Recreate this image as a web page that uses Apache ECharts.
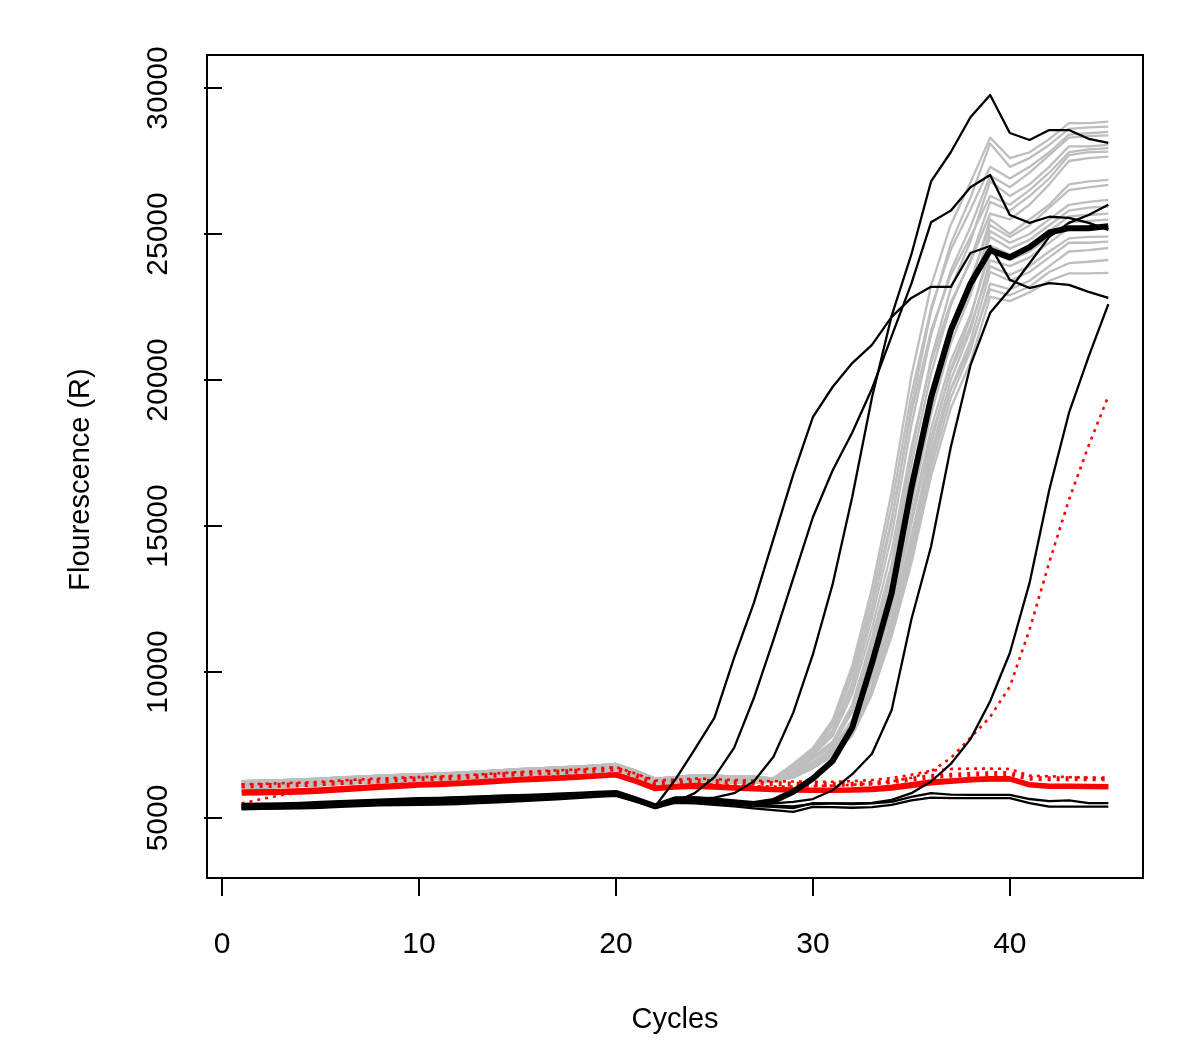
<!DOCTYPE html>
<html><head><meta charset="utf-8">
<script src="https://cdn.jsdelivr.net/npm/echarts@6/dist/echarts.min.js"></script>
<style>html,body{margin:0;padding:0;background:#fff}#c{width:1200px;height:1063px}</style>
</head><body><div id="c"></div>
<script>
// ---- data ----
const cycles = [1,2,3,4,5,6,7,8,9,10,11,12,13,14,15,16,17,18,19,20,21,22,23,24,25,26,27,28,29,30,31,32,33,34,35,36,37,38,39,40,41,42,43,44,45];
const xTicks = [0,10,20,30,40];
const yTicks = [5000,10000,15000,20000,25000,30000];

// gray curves: baseline (cycles 1-27) + amplification (cycles 28-45)
const grayBaseA = [6200,6220,6240,6260,6290,6330,6360,6390,6420,6440,6460,6490,6530,6570,6610,6640,6670,6700,6740,6780,6560,6300,6350,6420,6400,6370,6370];
const grayBaseB = [6110,6130,6150,6180,6210,6250,6280,6310,6340,6360,6380,6410,6450,6490,6530,6560,6590,6620,6660,6700,6480,6220,6270,6340,6320,6290,6290];
const grayBaseC = [6030,6050,6070,6100,6130,6170,6200,6230,6260,6280,6300,6330,6370,6410,6450,6480,6510,6540,6580,6620,6400,6140,6190,6260,6240,6210,6210];
const grayBaseD = [6260,6280,6300,6320,6350,6390,6420,6450,6480,6500,6520,6550,6590,6630,6670,6700,6730,6760,6800,6850,6620,6350,6400,6470,6450,6420,6420];

const grayRise01 = [6360,6850,7400,8350,10220,12870,16170,20140,23230,25320,26760,28300,27600,27800,28250,28800,28800,28850];
const grayRise02 = [6320,6710,7280,8000,9620,12150,15120,19100,22350,24670,26240,28100,27300,27600,28050,28600,28650,28680];
const grayRise03 = [6360,6820,7350,8250,10040,12570,15720,19510,22460,24460,25830,27300,26900,27300,27800,28400,28450,28500];
const grayRise04 = [6310,6690,7230,7910,9450,11850,14680,18450,21540,23740,25240,27000,26600,27100,27700,28300,28350,28380];
const grayRise05 = [6300,6560,7090,7610,8880,11180,13690,17470,20720,23120,24750,26800,26300,26700,27300,28000,28000,28050];
const grayRise06 = [6350,6790,7290,8160,9860,12270,15270,18880,21690,23590,24900,26300,26000,26500,27100,27800,27900,27940];
const grayRise07 = [6300,6550,7060,7560,8790,11010,13440,17090,20220,22550,24120,26100,25800,26300,26900,27700,27800,27820];
const grayRise08 = [6310,6660,7160,7810,9250,11500,14150,17690,20590,22650,24050,25700,25500,26000,26700,27500,27600,27650];
const grayRise09 = [6300,6480,6910,7390,8370,10290,12600,15880,19090,21570,23250,25500,25000,25500,26000,26700,26800,26850];
const grayRise10 = [6300,6540,7030,7510,8690,10820,13150,16650,19660,21890,23400,25300,24900,25300,25900,26500,26600,26680];
const grayRise11 = [6250,6480,6890,7360,8320,10210,12470,15680,18820,21260,22900,25100,24700,25000,25500,26000,26100,26170];
const grayRise12 = [6350,6530,7020,7480,8640,10730,13000,16430,19380,21560,23040,24900,24500,24800,25300,25800,25900,25940];
const grayRise13 = [6300,6400,6750,7200,7990,9550,11760,14510,17810,20380,22120,24600,24300,24600,25100,25600,25650,25700];
const grayRise14 = [6300,6470,6870,7320,8240,10050,12220,15300,18320,20660,22230,24350,24100,24400,24900,25400,25450,25490];
const grayRise15 = [6250,6390,6730,7180,7950,9460,11610,14280,17500,20000,21690,24100,23900,24200,24700,25200,25250,25260];
const grayRise16 = [6300,6460,6850,7290,8190,9960,12080,15080,18020,20300,21840,23900,23600,23900,24400,24850,24900,24910];
const grayRise17 = [6300,6390,6720,7160,7910,9390,11490,14100,17240,19690,21340,23700,23400,23700,24200,24700,24700,24740];
const grayRise18 = [6250,6390,6710,7140,7870,9320,11370,13920,16990,19380,21000,23300,23100,23400,23900,24400,24450,24520];
const grayRise19 = [6350,6450,6820,7240,8100,9790,11810,14680,17490,19660,21130,23100,22900,23200,23700,24000,24050,24110];
const grayRise20 = [6300,6380,6700,7110,7830,9240,11230,13720,16710,19030,20610,22850,22700,23000,23400,23650,23650,23670];

// black thin curves
const black1 = [5450,5460,5470,5490,5520,5550,5570,5600,5620,5650,5660,5680,5700,5720,5740,5760,5780,5800,5830,5860,5640,5400,6300,7350,8430,10480,12360,14560,16750,18730,19760,20580,21200,22160,22810,23190,23190,24350,24590,23430,23150,23320,23260,23020,22810];
const black2 = [5330,5340,5350,5370,5400,5430,5460,5480,5490,5500,5510,5530,5560,5590,5620,5650,5690,5730,5770,5810,5600,5380,5550,5850,6400,7400,9100,11100,13200,15300,16900,18200,19700,21500,23300,25400,25800,26600,27020,25650,25380,25590,25550,25380,25140];
const black3 = [5480,5490,5500,5520,5550,5580,5600,5630,5650,5680,5690,5710,5730,5750,5770,5790,5810,5830,5850,5880,5660,5420,5620,5650,5700,5850,6250,7100,8600,10600,13000,16000,19400,22200,24300,26800,27800,29000,29760,28460,28220,28560,28560,28260,28120];
const black4 = [5400,5410,5420,5440,5470,5500,5530,5550,5570,5590,5600,5620,5650,5680,5710,5730,5760,5790,5820,5850,5620,5390,5600,5620,5580,5530,5500,5500,5550,5650,5950,6500,7200,8700,11800,14300,17700,20500,22300,23100,24000,24900,25380,25650,26000];
const black5 = [5350,5360,5370,5390,5420,5450,5480,5500,5510,5530,5540,5560,5590,5620,5650,5680,5710,5740,5780,5820,5610,5380,5560,5590,5540,5490,5450,5420,5400,5480,5500,5500,5520,5620,5850,6250,6850,7700,9000,10650,13050,16230,18870,20800,22600];
const black6 = [5420,5430,5440,5460,5480,5500,5520,5540,5560,5570,5580,5600,5620,5650,5680,5710,5740,5770,5800,5830,5610,5390,5580,5560,5510,5460,5410,5380,5340,5510,5500,5480,5500,5550,5720,5850,5800,5790,5790,5790,5650,5580,5600,5510,5510];
const black7 = [5300,5310,5320,5330,5350,5380,5410,5430,5440,5450,5460,5480,5510,5540,5570,5600,5640,5680,5720,5760,5560,5350,5520,5500,5450,5400,5330,5270,5210,5380,5370,5350,5370,5450,5600,5700,5680,5680,5680,5680,5510,5390,5390,5390,5390];
// black thick curve
const blackThick = [5380,5390,5400,5420,5460,5490,5510,5540,5570,5600,5610,5640,5670,5700,5720,5740,5770,5800,5830,5860,5640,5400,5640,5650,5600,5540,5480,5580,5900,6350,6950,8100,10300,12700,16300,19400,21700,23300,24450,24200,24550,25050,25200,25200,25270];

// red curves
const redThick = [5850,5860,5870,5880,5920,5960,6000,6040,6080,6120,6140,6170,6210,6250,6290,6320,6350,6390,6430,6470,6250,6000,6050,6080,6050,6020,5990,5970,5950,5940,5940,5950,5970,6020,6100,6200,6250,6300,6330,6330,6130,6080,6080,6070,6060];
const redThickDotted = [6100,6110,6120,6140,6170,6210,6240,6270,6310,6340,6360,6390,6430,6470,6510,6540,6570,6600,6640,6680,6460,6200,6230,6270,6250,6220,6200,6180,6160,6150,6150,6160,6190,6250,6330,6420,6460,6500,6520,6520,6360,6340,6340,6340,6340];
const redThin1 = [5950,5960,5970,5990,6020,6060,6100,6140,6170,6200,6220,6250,6290,6330,6370,6400,6430,6460,6500,6540,6320,6080,6130,6170,6140,6100,6070,6040,6020,6010,6010,6020,6050,6110,6200,6290,6330,6380,6400,6400,6200,6150,6150,6140,6130];
const redThin2 = [5900,5910,5930,5950,5980,6020,6060,6090,6120,6150,6170,6200,6240,6280,6320,6350,6380,6420,6460,6500,6280,6030,6080,6110,6090,6060,6030,6000,5980,5970,5980,6000,6030,6080,6160,6240,6220,6260,6290,6300,6120,6060,6050,6040,6030];
const redDottedRising = [5500,5650,5780,5880,5960,6030,6080,6120,6160,6190,6210,6240,6280,6320,6360,6390,6420,6450,6490,6530,6310,6080,6120,6160,6140,6110,6090,6080,6080,6090,6110,6140,6180,6250,6380,6600,7050,7750,8460,9500,11450,13750,15900,17750,19450];
const redDottedUpper = [6150,6170,6190,6210,6240,6280,6320,6350,6380,6400,6420,6450,6490,6530,6570,6600,6630,6660,6700,6740,6520,6280,6310,6350,6330,6300,6280,6260,6250,6240,6240,6260,6300,6370,6480,6620,6680,6690,6690,6680,6450,6430,6400,6380,6340];

// ---- build ----
const GRAY = '#BEBEBE', RED = '#FF0000', BLACK = '#000000';
const grayCurves = [
  grayBaseD.concat(grayRise01), grayBaseA.concat(grayRise02), grayBaseB.concat(grayRise03), grayBaseC.concat(grayRise04),
  grayBaseA.concat(grayRise05), grayBaseD.concat(grayRise06), grayBaseB.concat(grayRise07), grayBaseC.concat(grayRise08),
  grayBaseA.concat(grayRise09), grayBaseB.concat(grayRise10), grayBaseC.concat(grayRise11), grayBaseD.concat(grayRise12),
  grayBaseA.concat(grayRise13), grayBaseB.concat(grayRise14), grayBaseC.concat(grayRise15), grayBaseA.concat(grayRise16),
  grayBaseB.concat(grayRise17), grayBaseC.concat(grayRise18), grayBaseD.concat(grayRise19), grayBaseB.concat(grayRise20)
];

function mk(vals, color, width, type, z) {
  return {
    type: 'line', data: vals.map((v, i) => [cycles[i], v]),
    showSymbol: false, symbol: 'none', silent: true, animation: false, z: z,
    lineStyle: { color: color, width: width, type: type || 'solid', cap: 'butt', join: 'round' },
    emphasis: { disabled: true }
  };
}

const series = [];
grayCurves.forEach(g => series.push(mk(g, GRAY, 2.3, 'solid', 2)));
series.push(mk(redThin1, RED, 2, 'solid', 3));
series.push(mk(redThin2, RED, 2, 'solid', 3));
series.push(mk(redThick, RED, 5, 'solid', 3));
series.push(mk(redThickDotted, RED, 5, [3, 6], 3));
series.push(mk(redDottedUpper, RED, 2.6, [3, 5], 3));
series.push(mk(redDottedRising, RED, 2.6, [3, 5], 3));
[black1, black2, black3, black4, black5, black6, black7].forEach(b => series.push(mk(b, BLACK, 2.3, 'solid', 4)));
series.push(mk(blackThick, BLACK, 6, 'solid', 5));

const FONT = '"Liberation Sans", Arial, Helvetica, sans-serif';
const plain = v => String(v);
const chart = echarts.init(document.getElementById('c'), null, { renderer: 'canvas' });
chart.setOption({
  animation: false,
  backgroundColor: '#fff',
  grid: { left: 207, right: 57, top: 55, bottom: 185, show: true, borderColor: '#000', borderWidth: 2, backgroundColor: 'transparent' },
  xAxis: {
    type: 'value', min: -0.76, max: 46.76,
    axisLine: { show: false },
    axisTick: { show: true, inside: false, length: 18, lineStyle: { color: '#000', width: 2 }, customValues: xTicks },
    axisLabel: { customValues: xTicks, formatter: plain, fontSize: 30, color: '#000', fontFamily: FONT, margin: 52 },
    splitLine: { show: false },
    name: 'Cycles', nameLocation: 'middle', nameGap: 127,
    nameTextStyle: { fontSize: 29, color: '#000', fontFamily: FONT }
  },
  yAxis: {
    type: 'value', min: 2945, max: 31130,
    axisLine: { show: false },
    axisTick: { show: true, inside: false, length: 18, lineStyle: { color: '#000', width: 2 }, customValues: yTicks },
    axisLabel: { customValues: yTicks, formatter: plain, fontSize: 30, color: '#000', fontFamily: FONT, margin: 33, rotate: 90 },
    splitLine: { show: false },
    name: 'Flourescence (R)', nameLocation: 'middle', nameGap: 112,
    nameTextStyle: { fontSize: 29, color: '#000', fontFamily: FONT, padding: [0, 26, 0, 0] }
  },
  series: series
});
</script>
</body></html>
